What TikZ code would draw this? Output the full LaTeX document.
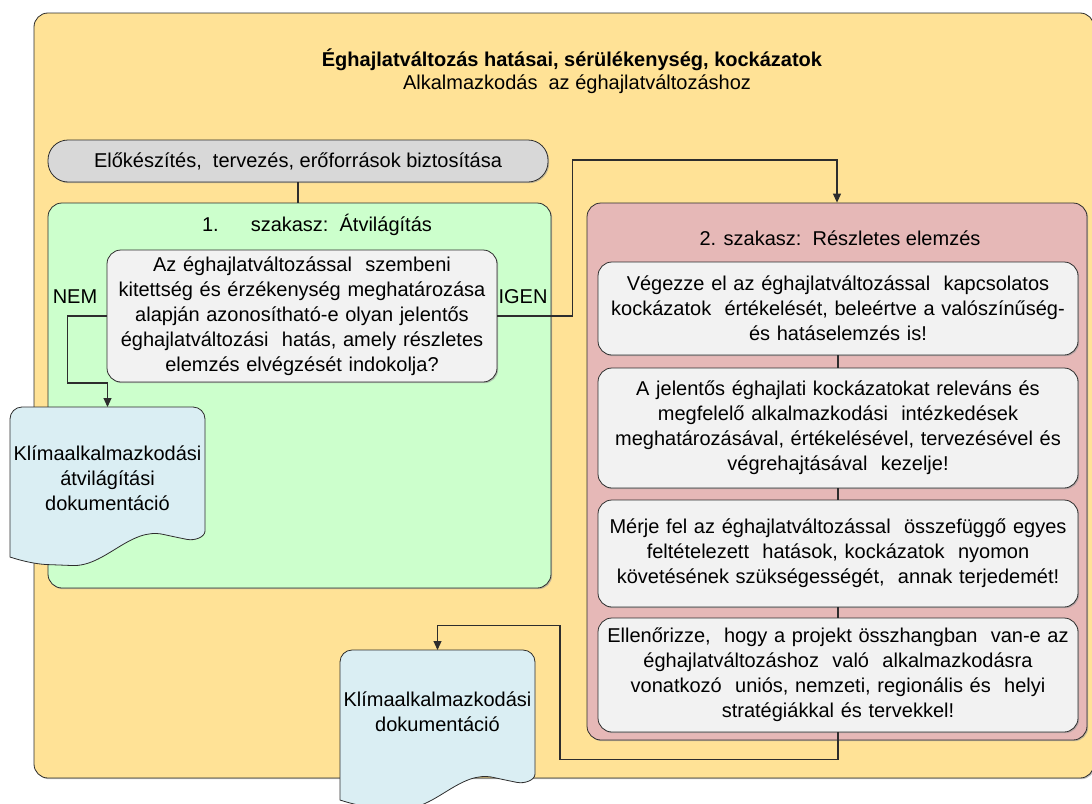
\documentclass[tikz,border=0pt]{standalone}
\usepackage{fontspec}
\setmainfont{Liberation Sans}
\usetikzlibrary{arrows.meta,shadows}

\definecolor{frameorange}{RGB}{255,226,150}
\definecolor{prepgray}{RGB}{216,216,216}
\definecolor{screengreen}{RGB}{204,255,204}
\definecolor{detailred}{RGB}{230,184,183}
\definecolor{stepwhite}{RGB}{242,242,242}
\definecolor{docblue}{RGB}{218,238,243}
\definecolor{edgegray}{RGB}{45,45,45}

% document symbol, top left corner at (#1,#2)
\newcommand{\docoutline}[2]{%
    \draw[docfill, shift={(#1,#2)}, rounded corners=12] (0,138) -- (0,0) -- (195,0) -- (195,112)
        .. controls (195,130) and (185,134) .. (165,130)
        .. controls (120,120) and (95,160) .. (50,158)
        .. controls (20,157) and (0,150) .. cycle;}

\begin{document}
\begin{tikzpicture}[x=1pt, y=-1pt, font=\fontsize{20}{25}\selectfont,
    panel/.style={draw=edgegray, line width=0.8pt, rounded corners=14, inner sep=0pt,
        drop shadow={shadow xshift=1.2pt, shadow yshift=-1.2pt, fill=black!40, opacity=0.6}},
    stepbox/.style={panel, fill=stepwhite, align=center},
    docfill/.style={draw=edgegray, line width=0.8pt, fill=docblue},
    doctext/.style={anchor=north, minimum width=195pt, align=center, inner sep=0pt},
    wire/.style={draw=edgegray, line width=1.1pt},
    arrowed/.style={wire, -{Triangle[length=9pt, width=8pt]}}]

    \useasboundingbox (0,0) rectangle (1092,803);
    \clip (0,0) rectangle (1092,803);

    \node[panel, fill=frameorange, minimum width=1060pt, minimum height=765pt] (frame) at (564,395.5) {};
    \node[font=\fontsize{20}{25}\selectfont\bfseries] (title) at (572,60) {Éghajlatváltozás hatásai, sérülékenység, kockázatok};
    \node (subtitle) at (577,84) {Alkalmazkodás\ \ az éghajlatváltozáshoz};

    \node[panel, fill=prepgray, rounded corners=20, minimum width=500pt, minimum height=42pt] (prep) at (298,161)
        {Előkészítés,\ \ tervezés, erőforrások biztosítása};

    \node[panel, fill=screengreen, minimum width=503pt, minimum height=385pt] (stage1) at (299.5,395.5) {};
    \node (stage1title) at (317,225) {1.\hspace{1.6em}szakasz:\ \ Átvilágítás};

    \node[stepbox, minimum width=390pt, minimum height=132pt, text width=384pt] (question) at (302,316)
        {Az éghajlatváltozással\ \ szembeni\\ kitettség és érzékenység meghatározása\\ alapján azonosítható-e olyan jelentős\\
         éghajlatváltozási\ \ hatás, amely részletes\\ elemzés elvégzését indokolja?};

    \node (nem) at (75,297) {NEM};
    \node (igen) at (523,297) {IGEN};

    \docoutline{10}{407}
    \node[doctext, minimum height=142pt] (doc1) at (107.5,407) {Klímaalkalmazkodási\\ átvilágítási\\ dokumentáció};

    \node[panel, fill=detailred, minimum width=500pt, minimum height=537pt] (stage2) at (837,471.5) {};
    \node (stage2title) at (840,238) {2. szakasz:\ \ Részletes elemzés};

    \node[stepbox, minimum width=480pt, minimum height=93pt, text width=474pt] (riskeval) at (838,308.5)
        {Végezze el az éghajlatváltozással\ \ kapcsolatos\\ kockázatok\ \ értékelését, beleértve a valószínűség-\\ és hatáselemzés is!};
    \node[stepbox, minimum width=480pt, minimum height=120pt, text width=474pt] (measures) at (838,428)
        {A jelentős éghajlati kockázatokat releváns és\\ megfelelő alkalmazkodási\ \ intézkedések\\
         meghatározásával, értékelésével, tervezésével és\\ végrehajtásával\ \ kezelje!};
    \node[stepbox, minimum width=480pt, minimum height=107pt, text width=474pt] (monitoring) at (838,553.5)
        {Mérje fel az éghajlatváltozással\ \ összefüggő egyes\\ feltételezett\ \ hatások, kockázatok\ \ nyomon\\
         követésének szükségességét,\ \ annak terjedemét!};
    \node[stepbox, minimum width=480pt, minimum height=114pt, text width=474pt] (consistency) at (838,675)
        {Ellenőrizze,\ \ hogy a projekt összhangban\ \ van-e az\\ éghajlatváltozáshoz\ \ való\ \ alkalmazkodásra\\
         vonatkozó\ \ uniós, nemzeti, regionális és\ \ helyi\\ stratégiákkal és tervekkel!};

    \docoutline{340}{650}
    \node[doctext, minimum height=124pt] (doc2) at (437.5,650) {Klímaalkalmazkodási\\ dokumentáció};

    \draw[wire] (prep) -- (prep |- stage1.north);
    \draw[arrowed] (question.west) -- ++(-39,0) -- ++(0,67) -| (doc1.north);
    \draw[arrowed] (question.east) -- ++(75,0) -- ++(0,-156) -| (stage2.north);

    \draw[wire] (riskeval) -- (measures);
    \draw[wire] (measures) -- (monitoring);
    \draw[wire] (monitoring) -- (consistency);
    \draw[arrowed] (consistency.south) -- ++(0,27) -- ++(-278,0) -- ++(0,-134) -| (doc2.north);
  \end{tikzpicture}
\end{document}
